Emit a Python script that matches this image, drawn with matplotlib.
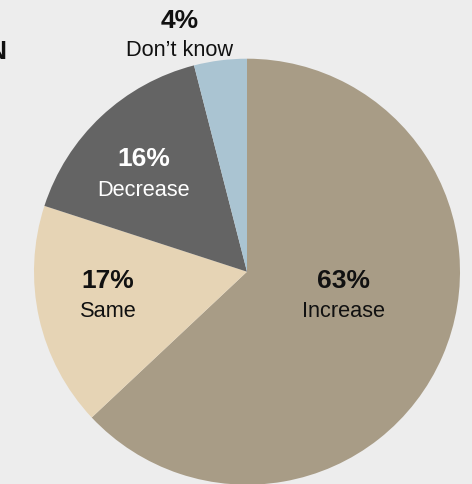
import matplotlib
matplotlib.use("Agg")
import matplotlib.pyplot as plt

# Data
categories = ["Increase", "Same", "Decrease", "Don\u2019t know"]
values = [63, 17, 16, 4]
pct_labels = ["63%", "17%", "16%", "4%"]
colors = ["#A89C86", "#E6D4B5", "#646464", "#AAC4D2"]
text_colors = ["#111111", "#111111", "#FFFFFF", "#111111"]

W, H = 472, 485
fig = plt.figure(figsize=(W / 100, H / 100), dpi=100)
fig.patch.set_facecolor("#EDEDED")
ax = fig.add_axes([0, 0, 1, 1])

cx, cy, r = 247, H - 272.7, 213
ax.pie(values, colors=colors, startangle=90, counterclock=False,
       center=(cx, cy), radius=r, frame=True,
       wedgeprops=dict(linewidth=0, antialiased=True))
ax.set_xlim(0, W)
ax.set_ylim(0, H)
ax.set_aspect("auto")
ax.axis("off")

# label positions (pixel coords from top-left): (x center, pct baseline, name baseline)
label_pos = [(344, 288, 316.7), (108, 288, 316.7), (143.5, 166, 195.7), (180, 27.7, 56)]

font = "Liberation Sans"
for (x, yb1, yb2), pct, name, tc in zip(label_pos, pct_labels, categories, text_colors):
    ax.text(x, H - yb1, pct, ha="center", va="baseline", fontsize=19,
            fontweight="bold", color=tc, family=font)
    ax.text(x, H - yb2, name, ha="center", va="baseline", fontsize=15.7,
            color=tc, family=font)

# cut-off title fragment at left edge (as in the reference)
ax.text(6, H - 59, "N", ha="right", va="baseline", fontsize=19,
        fontweight="bold", color="#111111", family=font)

fig.savefig("out.png", dpi=100, facecolor=fig.get_facecolor())
